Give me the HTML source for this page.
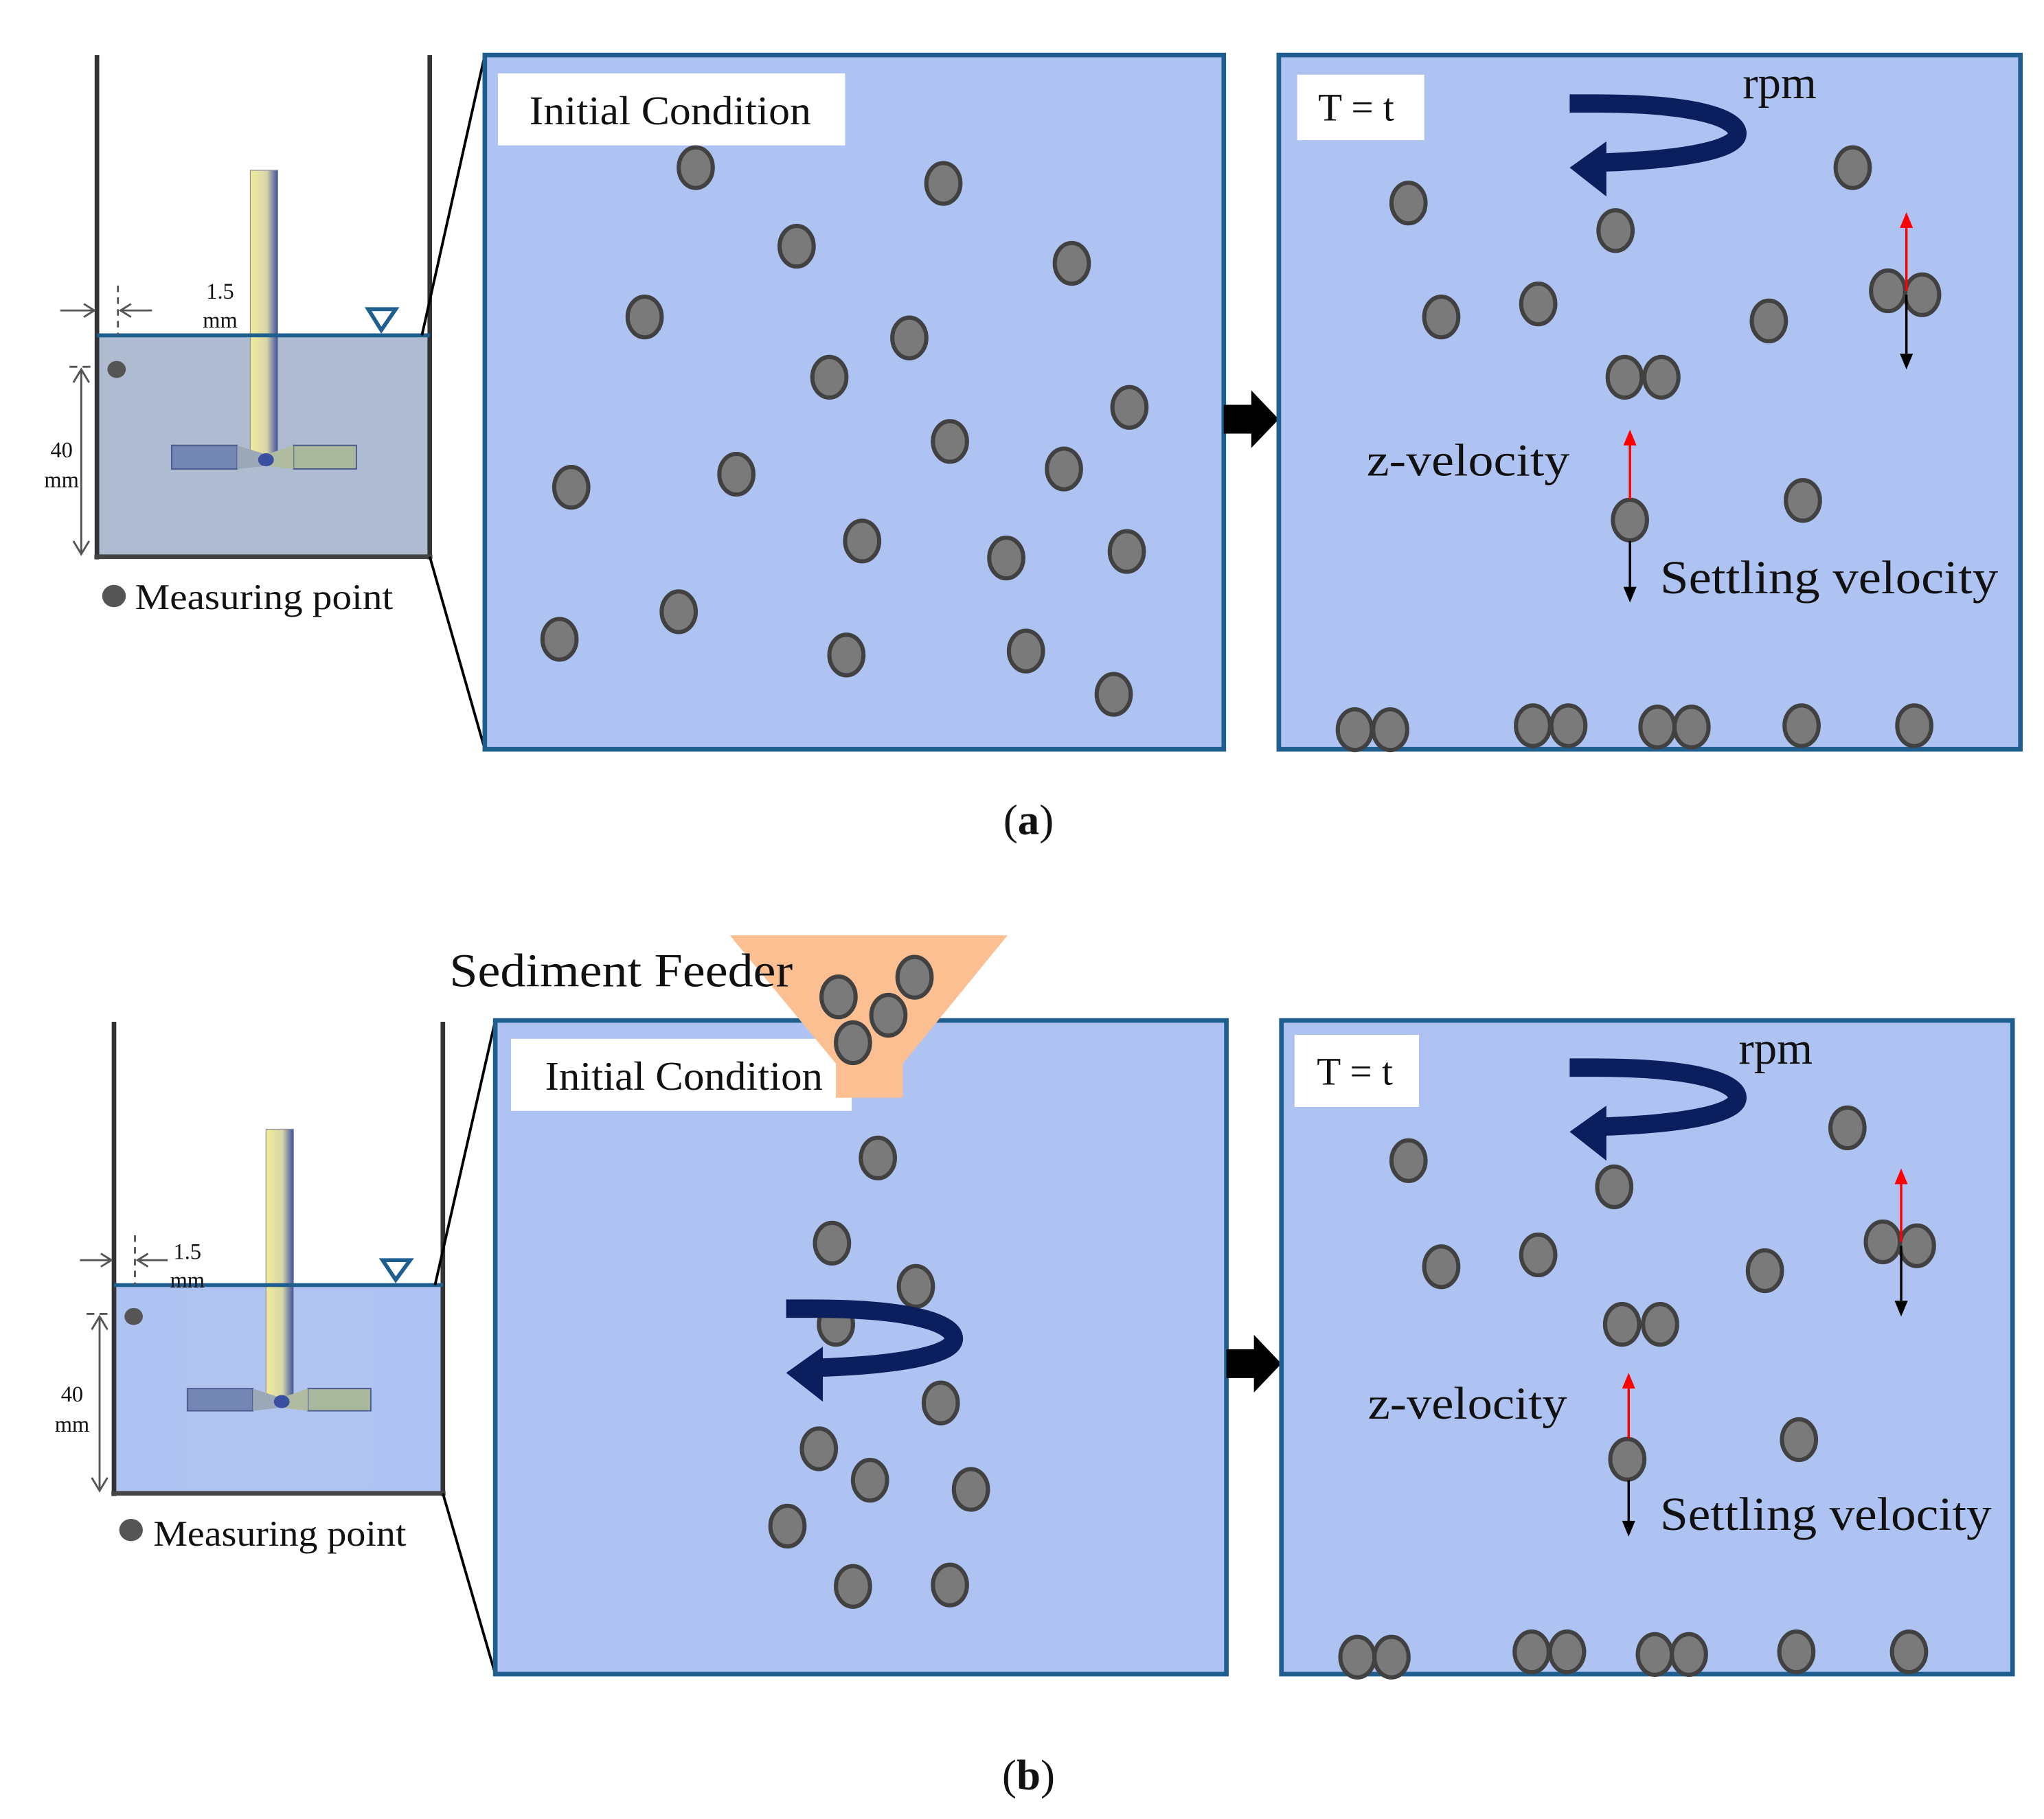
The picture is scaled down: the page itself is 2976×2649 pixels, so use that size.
<!DOCTYPE html>
<html><head><meta charset="utf-8"><style>
html,body{margin:0;padding:0;background:#fff}
svg{display:block}
text{font-family:"Liberation Serif",serif;fill:#111}
</style></head><body>
<svg width="2976" height="2649" viewBox="0 0 1560 1388.6" xmlns="http://www.w3.org/2000/svg">
<defs>
<linearGradient id="sh" x1="0" x2="1" y1="0" y2="0"><stop offset="0" stop-color="#f2eb9a"/><stop offset="0.6" stop-color="#d7d6a8"/><stop offset="1" stop-color="#3d4fa0"/></linearGradient>
<g id="p"><ellipse rx="13" ry="15.5" fill="#7a7a7a" stroke="#414141" stroke-width="3.2"/></g>
<g id="rot"><path d="M0,7 L20,7 C95,7 128,18 128,30 C128,43 82,50 27,52" fill="none" stroke="#0b1f5e" stroke-width="14"/><polygon points="28,36 0,56 28,78" fill="#0b1f5e"/></g>
<g id="blk"><polygon points="0,-11 21,-11 21,-22 42,0 21,22 21,11 0,11" fill="#000"/></g>
</defs>

<!-- ===== Tank A ===== -->
<rect x="74" y="256" width="254" height="169" fill="#aebbd1"/>
<rect x="191" y="130" width="21" height="222" fill="url(#sh)" stroke="#8c8ca0" stroke-width="0.6"/>
<rect x="131" y="340" width="50" height="18" fill="#7386b4" stroke="#4a5a90" stroke-width="1"/>
<rect x="224" y="340" width="48" height="18" fill="#a9b79c" stroke="#4a5a90" stroke-width="1"/>
<polygon points="181,340 200,346 205,352 200,356 181,358" fill="#9aa8b8"/>
<polygon points="224,340 206,346 202,352 206,356 224,358" fill="#b0bba0"/>
<ellipse cx="203" cy="351" rx="6" ry="5" fill="#3b4fa0"/>
<line x1="74" y1="42" x2="74" y2="427" stroke="#333" stroke-width="3.5"/>
<line x1="328" y1="42" x2="328" y2="427" stroke="#333" stroke-width="3.5"/>
<line x1="72" y1="425" x2="330" y2="425" stroke="#444" stroke-width="3.5"/>
<line x1="74" y1="256" x2="328" y2="256" stroke="#1f5f8f" stroke-width="3"/>
<polygon points="281,236 302,236 291,252" fill="none" stroke="#1f5f8f" stroke-width="3"/>
<line x1="90" y1="218" x2="90" y2="256" stroke="#555" stroke-width="1.5" stroke-dasharray="5,4"/>
<line x1="46" y1="237" x2="72" y2="237" stroke="#555" stroke-width="1.5"/><polyline points="64,232 72,237 64,242" fill="none" stroke="#555" stroke-width="1.5"/>
<line x1="92" y1="237" x2="116" y2="237" stroke="#555" stroke-width="1.5"/><polyline points="100,232 92,237 100,242" fill="none" stroke="#555" stroke-width="1.5"/>
<text x="168" y="228" font-size="17" text-anchor="middle">1.5</text>
<text x="168" y="250" font-size="17" text-anchor="middle">mm</text>
<line x1="53" y1="280" x2="72" y2="280" stroke="#555" stroke-width="1.5" stroke-dasharray="6,4"/>
<line x1="62" y1="282" x2="62" y2="423" stroke="#555" stroke-width="1.5"/>
<polyline points="56,292 62,282 68,292" fill="none" stroke="#555" stroke-width="1.5"/>
<polyline points="56,413 62,423 68,413" fill="none" stroke="#555" stroke-width="1.5"/>
<text x="47" y="349" font-size="17" text-anchor="middle">40</text>
<text x="47" y="372" font-size="17" text-anchor="middle">mm</text>
<ellipse cx="89" cy="282" rx="7" ry="6.5" fill="#555"/>
<ellipse cx="87" cy="455" rx="9" ry="8.5" fill="#555"/>
<text x="103" y="465" font-size="28" textLength="197" lengthAdjust="spacingAndGlyphs">Measuring point</text>
<line x1="322" y1="256" x2="370" y2="42" stroke="#000" stroke-width="2"/>
<line x1="328" y1="425" x2="370" y2="572" stroke="#000" stroke-width="2"/>

<!-- Panel A1 -->
<rect x="370" y="42" width="564" height="530" fill="#afc3f2" stroke="#1f5f8f" stroke-width="3.5"/>
<rect x="380" y="56" width="265" height="55" fill="#fff"/>
<text x="404" y="95" font-size="31" textLength="215" lengthAdjust="spacingAndGlyphs">Initial Condition</text>
<use href="#p" x="531" y="128"/><use href="#p" x="720" y="140"/><use href="#p" x="608" y="188"/><use href="#p" x="818" y="201"/>
<use href="#p" x="492" y="242"/><use href="#p" x="694" y="258"/><use href="#p" x="633" y="288"/><use href="#p" x="862" y="311"/>
<use href="#p" x="725" y="337"/><use href="#p" x="436" y="372"/><use href="#p" x="562" y="362"/><use href="#p" x="812" y="358"/>
<use href="#p" x="658" y="413"/><use href="#p" x="768" y="426"/><use href="#p" x="860" y="421"/><use href="#p" x="427" y="488"/>
<use href="#p" x="518" y="467"/><use href="#p" x="646" y="500"/><use href="#p" x="783" y="497"/><use href="#p" x="850" y="530"/>
<use href="#blk" x="934" y="320"/>

<!-- Panel A2 -->
<rect x="976" y="42" width="566" height="530" fill="#afc3f2" stroke="#1f5f8f" stroke-width="3.5"/>
<rect x="990" y="57" width="97" height="50" fill="#fff"/>
<text x="1006" y="92" font-size="30">T = t</text>
<use href="#rot" x="1198" y="72"/>
<text x="1330" y="75" font-size="35">rpm</text>
<use href="#p" x="1075" y="155"/><use href="#p" x="1233" y="176"/><use href="#p" x="1414" y="128"/><use href="#p" x="1100" y="242"/>
<use href="#p" x="1174" y="232"/><use href="#p" x="1350" y="245"/><use href="#p" x="1240" y="288"/><use href="#p" x="1268" y="288"/>
<use href="#p" x="1441" y="222"/><use href="#p" x="1467" y="225"/><use href="#p" x="1244" y="397"/><use href="#p" x="1376" y="382"/>
<use href="#p" x="1034" y="557"/><use href="#p" x="1061" y="557"/><use href="#p" x="1170" y="554"/><use href="#p" x="1197" y="554"/>
<use href="#p" x="1265" y="555"/><use href="#p" x="1291" y="555"/><use href="#p" x="1375" y="554"/><use href="#p" x="1461" y="554"/>
<line x1="1244" y1="381" x2="1244" y2="338" stroke="#f00" stroke-width="1.8"/><polygon points="1239,340 1244,328 1249,340" fill="#f00"/>
<line x1="1244" y1="413" x2="1244" y2="450" stroke="#000" stroke-width="1.8"/><polygon points="1239,448 1244,460 1249,448" fill="#000"/>
<line x1="1455" y1="222" x2="1455" y2="172" stroke="#f00" stroke-width="1.8"/><polygon points="1450,174 1455,162 1460,174" fill="#f00"/>
<line x1="1455" y1="225" x2="1455" y2="272" stroke="#000" stroke-width="1.8"/><polygon points="1450,270 1455,282 1460,270" fill="#000"/>
<text x="1043" y="363" font-size="35" textLength="155" lengthAdjust="spacingAndGlyphs">z-velocity</text>
<text x="1267" y="453" font-size="36" textLength="258" lengthAdjust="spacingAndGlyphs">Settling velocity</text>
<text x="785" y="637" font-size="33" text-anchor="middle">(<tspan font-weight="bold">a</tspan>)</text>

<!-- ===== Tank B ===== -->
<rect x="87" y="981" width="251" height="159" fill="#afc3f2"/>
<rect x="142" y="985" width="142" height="150" fill="#b4c5ec" opacity="0.5"/>
<rect x="203" y="862" width="21" height="210" fill="url(#sh)" stroke="#8c8ca0" stroke-width="0.6"/>
<rect x="143" y="1060" width="50" height="17" fill="#7386b4" stroke="#4a5a90" stroke-width="1"/>
<rect x="235" y="1060" width="48" height="17" fill="#a9b79c" stroke="#4a5a90" stroke-width="1"/>
<polygon points="193,1060 211,1066 216,1070 211,1075 193,1077" fill="#9aa8b8"/>
<polygon points="235,1060 218,1066 214,1070 218,1075 235,1077" fill="#b0bba0"/>
<ellipse cx="215" cy="1070" rx="6" ry="5" fill="#3b4fa0"/>
<line x1="87" y1="780" x2="87" y2="1142" stroke="#333" stroke-width="3.5"/>
<line x1="338" y1="780" x2="338" y2="1142" stroke="#333" stroke-width="3.5"/>
<line x1="85" y1="1140" x2="340" y2="1140" stroke="#444" stroke-width="3.5"/>
<line x1="87" y1="981" x2="338" y2="981" stroke="#1f5f8f" stroke-width="3"/>
<polygon points="292,962 313,962 302,977" fill="none" stroke="#1f5f8f" stroke-width="3"/>
<line x1="103" y1="943" x2="103" y2="981" stroke="#555" stroke-width="1.5" stroke-dasharray="5,4"/>
<line x1="61" y1="962" x2="85" y2="962" stroke="#555" stroke-width="1.5"/><polyline points="77,957 85,962 77,967" fill="none" stroke="#555" stroke-width="1.5"/>
<line x1="105" y1="962" x2="128" y2="962" stroke="#555" stroke-width="1.5"/><polyline points="113,957 105,962 113,967" fill="none" stroke="#555" stroke-width="1.5"/>
<text x="143" y="961" font-size="17" text-anchor="middle">1.5</text>
<text x="143" y="983" font-size="17" text-anchor="middle">mm</text>
<line x1="66" y1="1003" x2="85" y2="1003" stroke="#555" stroke-width="1.5" stroke-dasharray="6,4"/>
<line x1="76" y1="1005" x2="76" y2="1138" stroke="#555" stroke-width="1.5"/>
<polyline points="70,1015 76,1005 82,1015" fill="none" stroke="#555" stroke-width="1.5"/>
<polyline points="70,1128 76,1138 82,1128" fill="none" stroke="#555" stroke-width="1.5"/>
<text x="55" y="1070" font-size="17" text-anchor="middle">40</text>
<text x="55" y="1093" font-size="17" text-anchor="middle">mm</text>
<ellipse cx="102" cy="1005" rx="7" ry="6.5" fill="#555"/>
<ellipse cx="100" cy="1168" rx="9" ry="8.5" fill="#555"/>
<text x="117" y="1180" font-size="28" textLength="193" lengthAdjust="spacingAndGlyphs">Measuring point</text>
<line x1="332" y1="981" x2="378" y2="779" stroke="#000" stroke-width="2"/>
<line x1="338" y1="1140" x2="378" y2="1278" stroke="#000" stroke-width="2"/>

<!-- Panel B1 -->
<rect x="378" y="779" width="558" height="499" fill="#afc3f2" stroke="#1f5f8f" stroke-width="3.5"/>
<rect x="390" y="793" width="260" height="55" fill="#fff"/>
<text x="416" y="832" font-size="31" textLength="212" lengthAdjust="spacingAndGlyphs">Initial Condition</text>
<polygon points="557,714 769,714 689,812 689,838 638,838 638,812" fill="#fbbf91"/>
<text x="343" y="753" font-size="36" textLength="262" lengthAdjust="spacingAndGlyphs">Sediment Feeder</text>
<use href="#p" x="640" y="761"/><use href="#p" x="698" y="746"/><use href="#p" x="678" y="775"/><use href="#p" x="651" y="796"/>
<use href="#p" x="670" y="884"/><use href="#p" x="635" y="949"/><use href="#p" x="699" y="982"/><use href="#p" x="638" y="1011"/>
<use href="#rot" x="600" y="992"/>
<use href="#p" x="718" y="1071"/><use href="#p" x="625" y="1106"/><use href="#p" x="664" y="1130"/><use href="#p" x="741" y="1137"/>
<use href="#p" x="601" y="1165"/><use href="#p" x="651" y="1211"/><use href="#p" x="725" y="1210"/>
<use href="#blk" x="936" y="1041"/>

<!-- Panel B2 -->
<rect x="978" y="779" width="558" height="499" fill="#afc3f2" stroke="#1f5f8f" stroke-width="3.5"/>
<rect x="988" y="790" width="95" height="55" fill="#fff"/>
<text x="1005" y="828" font-size="30">T = t</text>
<use href="#rot" x="1198" y="808"/>
<text x="1327" y="812" font-size="35">rpm</text>
<use href="#p" x="1075" y="886"/><use href="#p" x="1232" y="906"/><use href="#p" x="1410" y="861"/><use href="#p" x="1100" y="967"/>
<use href="#p" x="1174" y="958"/><use href="#p" x="1347" y="970"/><use href="#p" x="1238" y="1011"/><use href="#p" x="1267" y="1011"/>
<use href="#p" x="1437" y="948"/><use href="#p" x="1463" y="951"/><use href="#p" x="1242" y="1114"/><use href="#p" x="1373" y="1099"/>
<use href="#p" x="1036" y="1265"/><use href="#p" x="1062" y="1265"/><use href="#p" x="1169" y="1261"/><use href="#p" x="1196" y="1261"/>
<use href="#p" x="1263" y="1263"/><use href="#p" x="1289" y="1263"/><use href="#p" x="1371" y="1261"/><use href="#p" x="1457" y="1261"/>
<line x1="1243" y1="1098" x2="1243" y2="1058" stroke="#f00" stroke-width="1.8"/><polygon points="1238,1060 1243,1048 1248,1060" fill="#f00"/>
<line x1="1243" y1="1130" x2="1243" y2="1163" stroke="#000" stroke-width="1.8"/><polygon points="1238,1161 1243,1173 1248,1161" fill="#000"/>
<line x1="1451" y1="948" x2="1451" y2="902" stroke="#f00" stroke-width="1.8"/><polygon points="1446,904 1451,892 1456,904" fill="#f00"/>
<line x1="1451" y1="951" x2="1451" y2="995" stroke="#000" stroke-width="1.8"/><polygon points="1446,993 1451,1005 1456,993" fill="#000"/>
<text x="1044" y="1083" font-size="35" textLength="152" lengthAdjust="spacingAndGlyphs">z-velocity</text>
<text x="1267" y="1168" font-size="36" textLength="253" lengthAdjust="spacingAndGlyphs">Settling velocity</text>
<text x="785" y="1366" font-size="33" text-anchor="middle">(<tspan font-weight="bold">b</tspan>)</text>
</svg>
</body></html>
